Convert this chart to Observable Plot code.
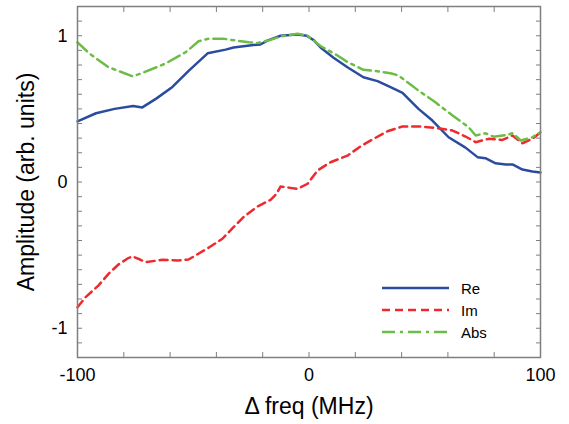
<!DOCTYPE html>
<html>
<head>
<meta charset="utf-8">
<script src="https://cdn.jsdelivr.net/npm/d3@7"></script>
<script src="https://cdn.jsdelivr.net/npm/@observablehq/plot@0.6"></script>
<style>
  body { margin: 0; background: white; }
  #wrap { position: relative; width: 569px; height: 424px; font-family: "Liberation Sans", Arial, sans-serif; }
  #legend { position: absolute; left: 382px; top: 277px; font-size: 15px; }
  #legend .row { display: flex; align-items: center; height: 22px; }
  #legend svg { margin-right: 12px; }
</style>
</head>
<body>
<div id="wrap"></div>
<script>
// Re (blue, solid)
const reX = [-100,-92,-84,-76,-72,-66,-59,-52,-43.8,-36,-32.6,-24,-21,-18,-12.3,-8,-5,-1,2,5,10.6,16.6,23.5,29.6,35,40.4,47.3,53.3,60.3,67.6,72.8,76.2,80.6,85,87.9,92.2,96.5,100];
const reY = [0.415,0.47,0.50,0.52,0.51,0.57,0.65,0.76,0.88,0.905,0.92,0.937,0.94,0.967,1.0,1.005,1.008,1.0,0.97,0.92,0.85,0.785,0.716,0.69,0.65,0.61,0.50,0.42,0.306,0.235,0.17,0.163,0.128,0.12,0.12,0.085,0.072,0.065];
// Im (red, dashed)
const imX = [-100,-96.5,-90.9,-86.6,-82.3,-78,-76.2,-73,-70.6,-63.3,-56.4,-52,-49,-43.4,-37.4,-32.6,-28.3,-22.2,-16.6,-14,-12.3,-5,-0.6,3.7,9.3,16.6,22.2,27.9,33.9,40.4,47.3,54.6,62,67.6,72,77.5,83.6,87.9,92.2,96.5,100];
const imY = [-0.856,-0.787,-0.707,-0.628,-0.564,-0.52,-0.509,-0.53,-0.548,-0.532,-0.537,-0.53,-0.502,-0.45,-0.388,-0.309,-0.24,-0.167,-0.122,-0.08,-0.031,-0.047,-0.012,0.079,0.135,0.18,0.243,0.295,0.347,0.38,0.38,0.37,0.352,0.311,0.272,0.295,0.288,0.318,0.265,0.295,0.34];
// Abs (green, dash-dot)
const absX = [-100,-95,-86.6,-76.2,-72,-62,-53.3,-47.7,-43.4,-37,-31.7,-26,-22.2,-17,-12.3,-5,-0.6,5,12.3,16.6,23.5,29.6,35.2,38.7,47.3,54.6,62,68.9,72,76.2,79.7,85,88,91.4,96.5,100];
const absY = [0.955,0.88,0.785,0.723,0.745,0.81,0.887,0.962,0.98,0.98,0.967,0.955,0.95,0.97,0.995,1.013,1.0,0.93,0.865,0.82,0.767,0.757,0.744,0.728,0.625,0.545,0.455,0.375,0.318,0.333,0.31,0.32,0.334,0.284,0.306,0.34];

const xTicks = [-100,-80,-60,-40,-20,0,20,40,60,80,100];
const xLabels = [-100,0,100];
const yTicks = d3.range(-12,13).map(d => d/10);
const yLabels = [-1,0,1];

const seriesNames = ["Re","Im","Abs"];
const seriesColors = ["#2b4c9e","#ee2a2e","#6cbd45"];
const seriesDash = [null,"8,5","13,5,3,5"];

const toRows = (xs, ys) => xs.map((x,i) => ({x, y: ys[i]}));
const re = toRows(reX, reY), im = toRows(imX, imY), abs = toRows(absX, absY);

const axisColor = "#7f7f7f";
const fmt = d => String(d);
const chart = Plot.plot({
  width: 569, height: 424,
  marginLeft: 77, marginRight: 29, marginTop: 6, marginBottom: 67,
  x: {domain: [-100, 100]},
  y: {domain: [-1.2, 1.2]},
  style: {fontFamily: "'Liberation Sans', Arial, sans-serif", fontSize: "18px", color: "black", background: "white", overflow: "visible"},
  marks: [
    Plot.axisX(xTicks, {anchor: "bottom", tickSize: -5, tickFormat: () => "", label: null, stroke: axisColor}),
    Plot.axisX(xTicks, {anchor: "top", tickSize: -5, tickFormat: () => "", label: null, stroke: axisColor}),
    Plot.axisX(xLabels, {anchor: "bottom", tickSize: 0, tickPadding: 11, tickFormat: fmt, label: null, fontSize: 18, fill: "black"}),
    Plot.axisY(yTicks, {anchor: "left", tickSize: -5, tickFormat: () => "", label: null, stroke: axisColor}),
    Plot.axisY(yTicks, {anchor: "right", tickSize: -5, tickFormat: () => "", label: null, stroke: axisColor}),
    Plot.axisY(yLabels, {anchor: "left", tickSize: 0, tickPadding: 10, tickFormat: fmt, label: null, fontSize: 18, fill: "black"}),
    Plot.line(re, {x: "x", y: "y", stroke: seriesColors[0], strokeWidth: 2.5}),
    Plot.line(im, {x: "x", y: "y", stroke: seriesColors[1], strokeWidth: 2.5, strokeDasharray: seriesDash[1]}),
    Plot.line(abs, {x: "x", y: "y", stroke: seriesColors[2], strokeWidth: 2.5, strokeDasharray: seriesDash[2]}),
    Plot.frame({stroke: axisColor, strokeWidth: 1.5}),
    Plot.text(["Δ freq (MHz)"], {text: d => d, frameAnchor: "bottom", dy: 49, lineAnchor: "middle", textAnchor: "middle", fontSize: 23, fill: "black"}),
    Plot.text(["Amplitude (arb. units)"], {text: d => d, frameAnchor: "left", dx: -51, rotate: -90, lineAnchor: "middle", textAnchor: "middle", fontSize: 23, fill: "black"})
  ]
});

const wrap = document.getElementById("wrap");
wrap.appendChild(chart);

// in-plot legend
const legend = document.createElement("div");
legend.id = "legend";
seriesNames.forEach((name, i) => {
  const row = document.createElement("div");
  row.className = "row";
  const dash = seriesDash[i] ? `stroke-dasharray="${seriesDash[i]}"` : "";
  row.innerHTML = `<svg width="67" height="6"><line x1="0" y1="3" x2="67" y2="3" stroke="${seriesColors[i]}" stroke-width="2.5" ${dash}/></svg><span>${name}</span>`;
  legend.appendChild(row);
});
wrap.appendChild(legend);
</script>
</body>
</html>
